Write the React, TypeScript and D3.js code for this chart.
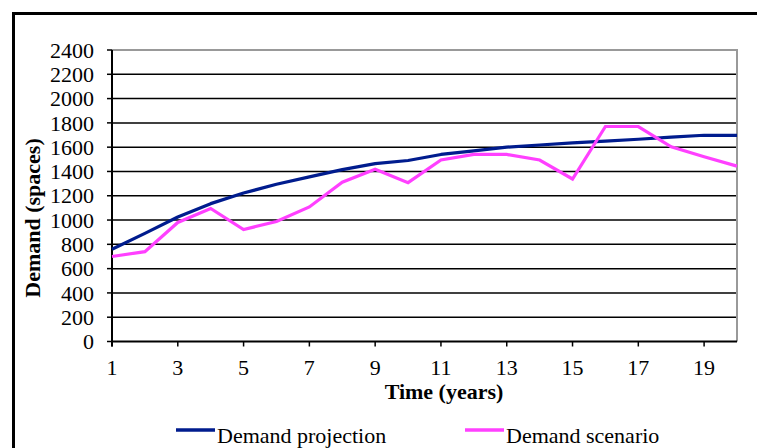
import React from "react";
import * as d3 from "d3";

const years = [1, 2, 3, 4, 5, 6, 7, 8, 9, 10, 11, 12, 13, 14, 15, 16, 17, 18, 19, 20];
const projection = [760, 890, 1025, 1135, 1222, 1295, 1355, 1415, 1465, 1490, 1540, 1570, 1600, 1618, 1635, 1650, 1665, 1682, 1698, 1697];
const scenario = [700, 740, 980, 1095, 922, 988, 1108, 1312, 1418, 1308, 1495, 1540, 1540, 1494, 1338, 1770, 1770, 1603, 1521, 1444];
const yTicks = [0, 200, 400, 600, 800, 1000, 1200, 1400, 1600, 1800, 2000, 2200, 2400];
const xTicks = [1, 3, 5, 7, 9, 11, 13, 15, 17, 19];
const seriesNames = ["Demand projection", "Demand scenario"];
const colors = ["#001c8e", "#ff40ff"];

export default function App() {
  const W = 757, H = 448;
  const left = 112, right = 737, top = 50, bottom = 341.5;
  const x = d3.scaleLinear().domain([1, 20]).range([left, right]);
  const y = d3.scaleLinear().domain([0, 2400]).range([bottom, top]);
  const line = d3.line<number>().x((_, i) => x(years[i])).y((d) => y(d));
  const font = "'Liberation Serif', 'Times New Roman', serif";
  const fs = 22;
  return (
    <svg width={W} height={H} style={{ position: "absolute", left: 0, top: 0 }} fontFamily={font}>
      <rect x={0} y={0} width={W} height={H} fill="#fff" />
      <rect x={13.5} y={13.5} width={900} height={600} fill="none" stroke="#000" strokeWidth={3} />
      {/* gridlines */}
      {yTicks.map((t) =>
        t === 0 || t === 2400 ? null : (
          <line key={t} x1={left} x2={right} y1={y(t)} y2={y(t)} stroke="#000" strokeWidth={1.5} />
        )
      )}
      {/* plot border top/right */}
      <line x1={left} x2={right} y1={y(2400)} y2={y(2400)} stroke="#999" strokeWidth={2} />
      <line x1={right} x2={right} y1={top - 1} y2={bottom} stroke="#999" strokeWidth={2} />
      {/* y ticks */}
      {yTicks.map((t) => (
        <g key={"yt" + t}>
          <line x1={left - 5} x2={left} y1={y(t)} y2={y(t)} stroke="#000" strokeWidth={1.5} />
          <text x={94} y={y(t)} dy="0.35em" textAnchor="end" fontSize={fs} fill="#000">
            {t}
          </text>
        </g>
      ))}
      {/* x ticks */}
      {xTicks.map((t) => (
        <g key={"xt" + t}>
          <line x1={x(t)} x2={x(t)} y1={bottom} y2={bottom + 5} stroke="#000" strokeWidth={1.5} />
          <text x={x(t)} y={375} textAnchor="middle" fontSize={fs} fill="#000">
            {t}
          </text>
        </g>
      ))}
      {/* axes */}
      <line x1={left} x2={right} y1={bottom} y2={bottom} stroke="#000" strokeWidth={2} />
      <line x1={left} x2={left} y1={top} y2={bottom + 5} stroke="#000" strokeWidth={2} />
      {/* series */}
      <path d={line(projection) || ""} fill="none" stroke={colors[0]} strokeWidth={3.2} strokeLinejoin="round" />
      <path d={line(scenario) || ""} fill="none" stroke={colors[1]} strokeWidth={3.2} strokeLinejoin="miter" />
      {/* titles */}
      <text x={444} y={399} textAnchor="middle" fontSize={fs} fontWeight="bold" fill="#000">
        Time (years)
      </text>
      <text
        transform={`translate(40,218) rotate(-90)`}
        textAnchor="middle"
        fontSize={fs}
        fontWeight="bold"
        fill="#000"
      >
        Demand (spaces)
      </text>
      {/* legend */}
      {seriesNames.map((n, i) => {
        const lx = i === 0 ? 176 : 465;
        return (
          <g key={n}>
            <line x1={lx} x2={lx + 39} y1={430} y2={430} stroke={colors[i]} strokeWidth={3.5} />
            <text x={lx + 41} y={442.5} fontSize={fs} fill="#000">
              {n}
            </text>
          </g>
        );
      })}
    </svg>
  );
}
